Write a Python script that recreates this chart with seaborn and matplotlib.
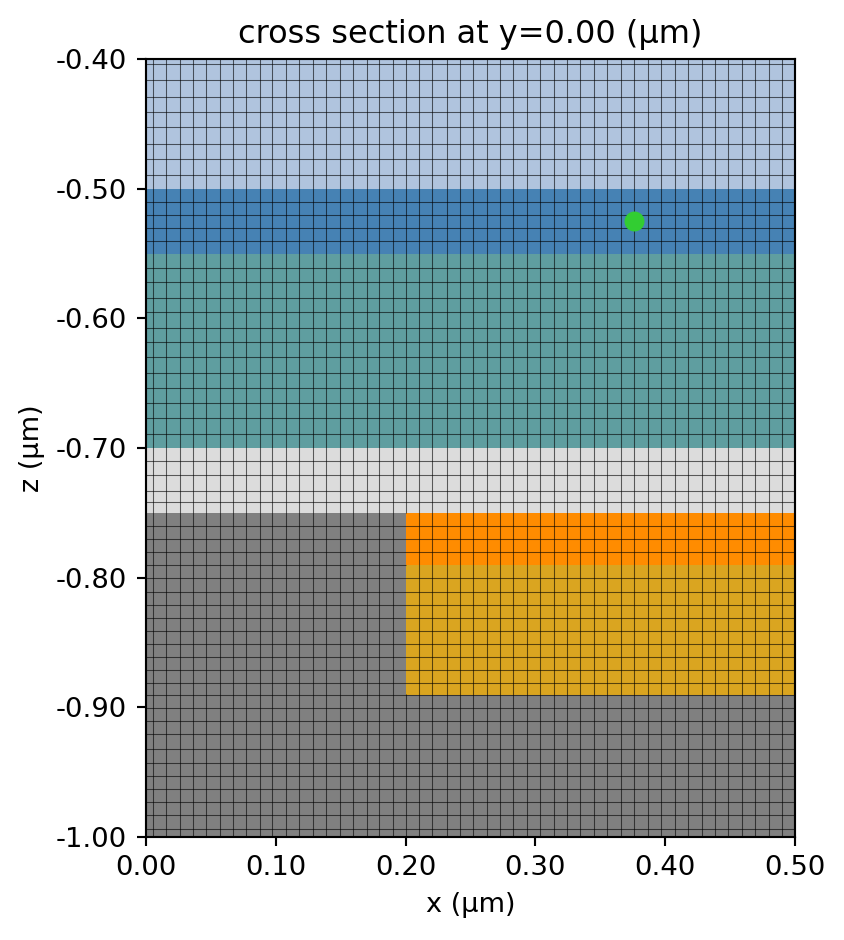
import matplotlib
matplotlib.use("Agg")
import matplotlib.pyplot as plt
import seaborn as sns
import pandas as pd

plt.rcParams['axes.unicode_minus'] = False
plt.rcParams['xtick.labelsize'] = 10.3
plt.rcParams['ytick.labelsize'] = 10.3
plt.rcParams['axes.labelsize'] = 10.2

# layers: name, x start, x end, z top, z bottom
layer_names = ['background', 'upper oxide', 'blue layer', 'teal layer', 'light layer', 'substrate', 'orange layer', 'gold layer']
layer_x0 = [0.0, 0.0, 0.0, 0.0, 0.0, 0.0, 0.2, 0.2]
layer_x1 = [0.5, 0.5, 0.5, 0.5, 0.5, 0.5, 0.5, 0.5]
layer_z_top = [-0.40, -0.40, -0.50, -0.55, -0.70, -0.75, -0.75, -0.7905]
layer_z_bot = [-0.50, -0.50, -0.55, -0.70, -0.75, -1.00, -0.7905, -0.8905]
layer_colors = ['#B0C4DE', '#B0C4DE', '#4682B4', '#5F9EA0', '#DCDCDC', '#808080', '#FF8C00', '#DAA520']

# mesh lines
grid_x = [0.0054, 0.0156, 0.0259, 0.0364, 0.0466, 0.0569, 0.0668, 0.0773, 0.0875, 0.0974,
          0.1080, 0.1182, 0.1284, 0.1389, 0.1492, 0.1591, 0.1699, 0.1798, 0.1900,
          0.2105, 0.2207, 0.2316, 0.2418, 0.2523, 0.2625, 0.2728, 0.2830, 0.2935, 0.3037,
          0.3140, 0.3245, 0.3347, 0.3453, 0.3555, 0.3657, 0.3762, 0.3865, 0.3970, 0.4072,
          0.4174, 0.4280, 0.4382, 0.4484, 0.4590, 0.4695, 0.4797, 0.4899]
grid_z = [-0.404, -0.416, -0.429, -0.441, -0.452, -0.465, -0.477, -0.489,
          -0.510, -0.520, -0.530, -0.540,
          -0.561, -0.572, -0.584, -0.595, -0.607, -0.618, -0.630, -0.642, -0.654, -0.665, -0.677, -0.689,
          -0.710, -0.721, -0.733, -0.742,
          -0.760, -0.770, -0.780,
          -0.800, -0.811, -0.821, -0.831, -0.841, -0.851, -0.861, -0.871, -0.881, -0.8905,
          -0.901, -0.911, -0.921, -0.932, -0.943, -0.953, -0.963, -0.973, -0.983, -0.994]

# lines that only show on part of the section
edge_x = 0.2
edge_x_spans = [(-0.40, -0.75), (-0.89, -1.00)]
edge_z = -0.7905
edge_z_span = (0.0, 0.2)

source = pd.DataFrame({'x': [0.376], 'z': [-0.525]})

x_ticks = [0.00, 0.10, 0.20, 0.30, 0.40, 0.50]
z_ticks = [-0.40, -0.50, -0.60, -0.70, -0.80, -0.90, -1.00]

fig = plt.figure(figsize=(844 / 192, 940 / 192), dpi=192)
ax = fig.add_axes([146 / 844, 1 - 836.7 / 940, 649 / 844, 777.4 / 940])

for x0, x1, top, bot, c in zip(layer_x0, layer_x1, layer_z_top, layer_z_bot, layer_colors):
    ax.barh(top, x1 - x0, height=bot - top, left=x0, align='edge', color=c, linewidth=0, zorder=1)

line_kw = dict(colors='black', linewidth=0.4, alpha=0.6, zorder=2)
ax.vlines(grid_x, -1.0, -0.4, **line_kw)
ax.hlines(grid_z, 0.0, 0.5, **line_kw)
for top, bot in edge_x_spans:
    ax.vlines(edge_x, bot, top, **line_kw)
ax.hlines(edge_z, edge_z_span[0], edge_z_span[1], **line_kw)

sns.scatterplot(data=source, x='x', y='z', color='#32CD32', s=56, linewidth=0, zorder=3, ax=ax)

ax.set_xlim(0.0, 0.5)
ax.set_ylim(-1.0, -0.4)
ax.set_xticks(x_ticks)
ax.set_yticks(z_ticks)
ax.xaxis.set_major_formatter(matplotlib.ticker.FormatStrFormatter('%.2f'))
ax.yaxis.set_major_formatter(matplotlib.ticker.FormatStrFormatter('%.2f'))
ax.set_xlabel('x (μm)')
ax.set_ylabel('z (μm)')
ax.set_title('cross section at y=0.00 (μm)')

fig.savefig('out.png', dpi=192)
